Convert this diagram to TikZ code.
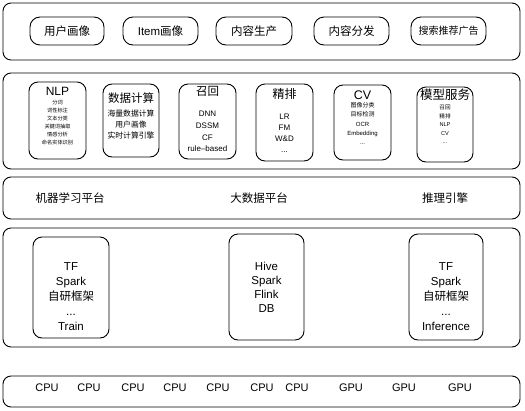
\documentclass[tikz,border=0pt]{standalone}
\usepackage{fontspec}
\setmainfont{Liberation Sans}
\newfontfamily\cjk{Noto Sans CJK SC}
\usetikzlibrary{fit}

\tikzset{
  layer/.style={draw, line width=0.9pt, rounded corners=8pt, inner sep=0pt},
  card/.style={draw, line width=0.9pt, rounded corners=9pt, inner sep=0pt},
  lbl/.style={inner sep=0pt, align=center},
  fsz/.style={font=\fontsize{#1}{#1}\selectfont},
  lst/.style 2 args={inner sep=0pt, align=center, font=\fontsize{#1}{#2}\selectfont},
}

\begin{document}
\begin{tikzpicture}[x=1pt, y=-1pt]
\useasboundingbox (0,0) rectangle (525,410);

% ---- application layer
\node[layer, fit={(3,3) (520,60)}] (app) {};
\node[card, rounded corners=10pt, fit={(30,17) (104,45)}] (a1) {};
\node[card, rounded corners=10pt, fit={(123,17) (198,45)}] (a2) {};
\node[card, rounded corners=10pt, fit={(216,17) (292,45)}] (a3) {};
\node[card, rounded corners=10pt, fit={(314,17) (389,45)}] (a4) {};
\node[card, rounded corners=10pt, fit={(411,17) (486,45)}] (a5) {};
\node[lbl, fsz=11.5] (a1t) at (a1) {\cjk 用户画像};
\node[lbl, fsz=11.5] (a2t) at (a2) {Item{\cjk 画像}};
\node[lbl, fsz=11.5] (a3t) at (a3) {\cjk 内容生产};
\node[lbl, fsz=11.5] (a4t) at (a4) {\cjk 内容分发};
\node[lbl, fsz=10] (a5t) at (a5) {\cjk 搜索推荐广告};

% ---- algorithm layer
\node[layer, fit={(3,73) (520,169)}] (alg) {};
\node[card, fit={(29,82) (86,159)}] (nlp) {};
\node[card, fit={(103,84) (159,157)}] (calc) {};
\node[card, fit={(179,84) (236,159)}] (recall) {};
\node[card, fit={(256,84) (313,161)}] (rank) {};
\node[card, fit={(334,85) (391,160)}] (cv) {};
\node[card, fit={(417,87) (473,162)}] (serve) {};

\node[lbl, fsz=12] (nlpt) at (57.5,91) {NLP};
\node[lst={5.2}{8}] (nlpl) at (57.5,123)
  {\cjk 分词\\\cjk 词性标注\\\cjk 文本分类\\\cjk 关键词抽取\\\cjk 情感分析\\\cjk 命名实体识别};

\node[lbl, fsz=11.5] (calct) at (131,98) {\cjk 数据计算};
\node[lst={7.8}{11}] (calcl) at (131,125)
  {\cjk 海量数据计算\\\cjk 用户画像\\\cjk 实时计算引擎};

\node[lbl, fsz=11.5] (recallt) at (207.5,91) {\cjk 召回};
\node[lst={8}{11.7}] (recalll) at (207.5,131.5)
  {DNN\\DSSM\\CF\\rule–based};

\node[lbl, fsz=12] (rankt) at (284.5,94) {\cjk 精排};
\node[lst={8}{11}] (rankl) at (284.5,133.5)
  {LR\\FM\\W\&D\\...};

\node[lbl, fsz=12.5] (cvt) at (362.5,95) {CV};
\node[lst={6}{9.2}] (cvl) at (362.5,123.5)
  {\cjk 图像分类\\\cjk 目标检测\\OCR\\Embedding\\...};

\node[lbl, fsz=12.5] (servet) at (445,95) {\cjk 模型服务};
\node[lst={5.6}{8.5}] (servel) at (445,124.5)
  {\cjk 召回\\\cjk 精排\\NLP\\CV\\...};

% ---- platform layer
\node[layer, fit={(3,177) (520,219)}] (plat) {};
\node[lbl, fsz=11.5] (ml) at (70,198) {\cjk 机器学习平台};
\node[lbl, fsz=11.5] (bd) at (259,198) {\cjk 大数据平台};
\node[lbl, fsz=11.5] (inf) at (445,198) {\cjk 推理引擎};

% ---- framework layer
\node[layer, fit={(3,228) (520,347)}] (fw) {};
\node[card, fit={(33,237) (109,338)}] (fw1) {};
\node[card, fit={(229,234) (304,340)}] (fw2) {};
\node[card, fit={(409,234) (483,340)}] (fw3) {};
\node[lst={11.5}{15}] (fw1t) at (71,297)
  {TF\\Spark\\{\cjk 自研框架}\\...\\Train};
\node[lst={11.5}{14}] (fw2t) at (266.5,287)
  {Hive\\Spark\\Flink\\DB};
\node[lst={11.5}{15}] (fw3t) at (446,297)
  {TF\\Spark\\{\cjk 自研框架}\\...\\Inference};

% ---- hardware layer
\node[layer, fit={(3,376) (520,407)}] (hw) {};
\foreach \x [count=\i] in {47,89,133,175,218,262,297}
  \node[lbl, fsz=11] (cpu\i) at (\x,388) {CPU};
\foreach \x [count=\i] in {351,404,460}
  \node[lbl, fsz=11] (gpu\i) at (\x,388) {GPU};
\end{tikzpicture}
\end{document}
